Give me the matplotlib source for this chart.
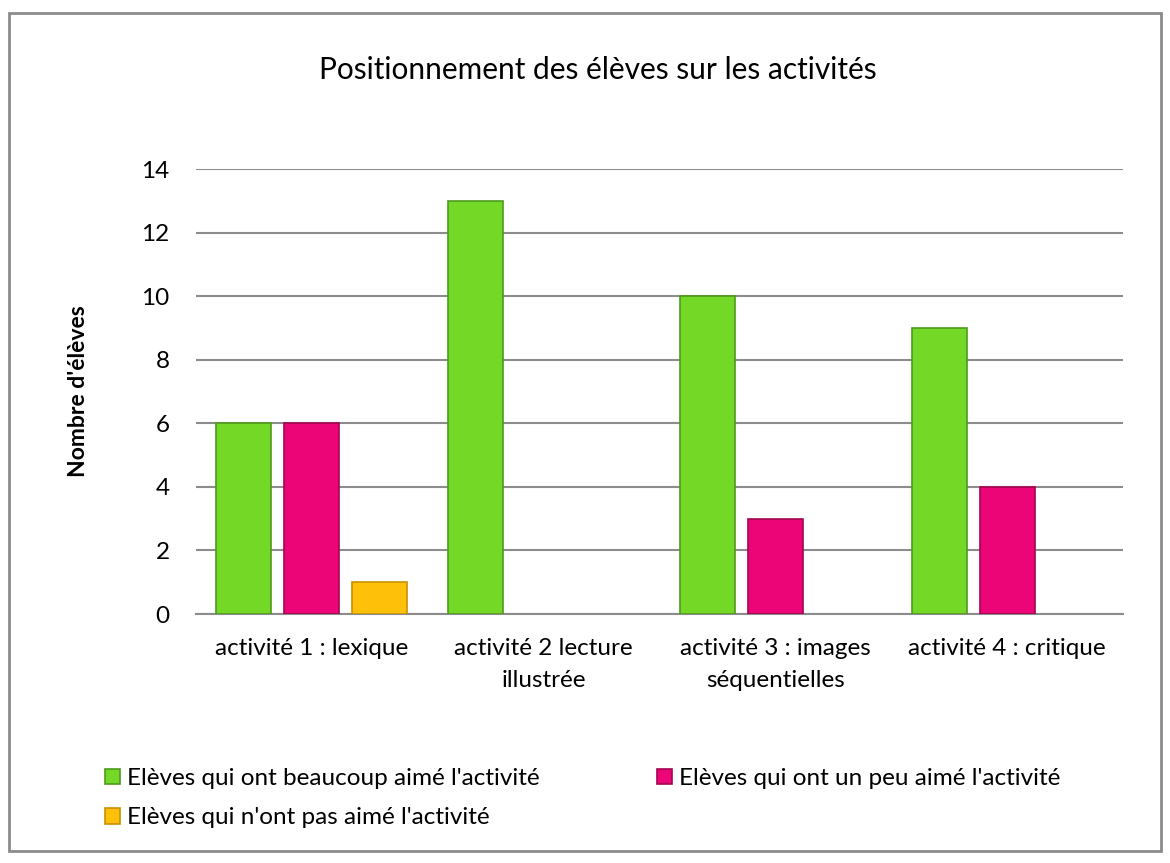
import numpy as np
import matplotlib
matplotlib.use("Agg")
import matplotlib.pyplot as plt
from matplotlib.patches import Rectangle

plt.rcParams['font.family'] = ['Lato', 'DejaVu Sans']

categories = ["activité 1 : lexique", "activité 2 lecture\nillustrée",
              "activité 3 : images\nséquentielles", "activité 4 : critique"]
series_names = ["Elèves qui ont beaucoup aimé l'activité",
                "Elèves qui ont un peu aimé l'activité",
                "Elèves qui n'ont pas aimé l'activité"]
beaucoup = [6, 13, 10, 9]
un_peu = [6, 0, 3, 4]
pas_aime = [1, 0, 0, 0]

colors = ['#74d826', '#ec0576', '#ffc00a']
edges = ['#4f9a1c', '#a3064f', '#c79200']

fig = plt.figure(figsize=(11.7, 8.63), dpi=100)
fig.patches.append(Rectangle((0.008, 0.014), 0.984, 0.971, transform=fig.transFigure,
                             fill=False, edgecolor='#8c8c8c', linewidth=2))
ax = fig.add_axes([0.1675, 0.2885, 0.7925, 0.5155])

x = np.arange(len(categories))
width = 0.237
step = 0.293
handles = []
for i, vals in enumerate([beaucoup, un_peu, pas_aime]):
    vals = np.array(vals)
    lw = np.where(vals > 0, 1.2, 0)
    b = ax.bar(x + (i - 1) * step, vals, width, color=colors[i], edgecolor=edges[i],
               linewidth=lw, label=series_names[i], zorder=3)
    handles.append(b)

ax.set_xlim(-0.5, 3.5)
ax.set_ylim(0, 14)
ax.set_yticks(range(0, 15, 2))
ax.set_xticks(x)
ax.set_xticklabels(categories, fontsize=17.5, linespacing=1.65)
ax.tick_params(axis='y', labelsize=17.5, length=0, pad=19)
ax.tick_params(axis='x', length=0, pad=17)
ax.grid(axis='y', color='#8c8c8c', linewidth=1.5, zorder=0)
for s in ['top', 'right', 'left']:
    ax.spines[s].set_visible(False)
ax.spines['bottom'].set_color('#8c8c8c')
ax.spines['bottom'].set_linewidth(1.5)

ax.set_ylabel("Nombre d'élèves", fontsize=16.5, fontweight='bold', labelpad=38)
fig.text(0.511, 0.919, "Positionnement des élèves sur les activités",
         ha='center', va='center', fontsize=21.5)

# column-major fill: green, yellow in column 1; pink in column 2
order = [0, 2, 1]
fig.legend([handles[k] for k in order], [series_names[k] for k in order],
           loc='upper left', bbox_to_anchor=(0.0897, 0.110), ncol=2, frameon=False,
           fontsize=17.5, handlelength=0.62, handleheight=0.62, handletextpad=0.3,
           columnspacing=4.8, labelspacing=0.75, borderaxespad=0, borderpad=0)

fig.savefig("out.png", dpi=100)
